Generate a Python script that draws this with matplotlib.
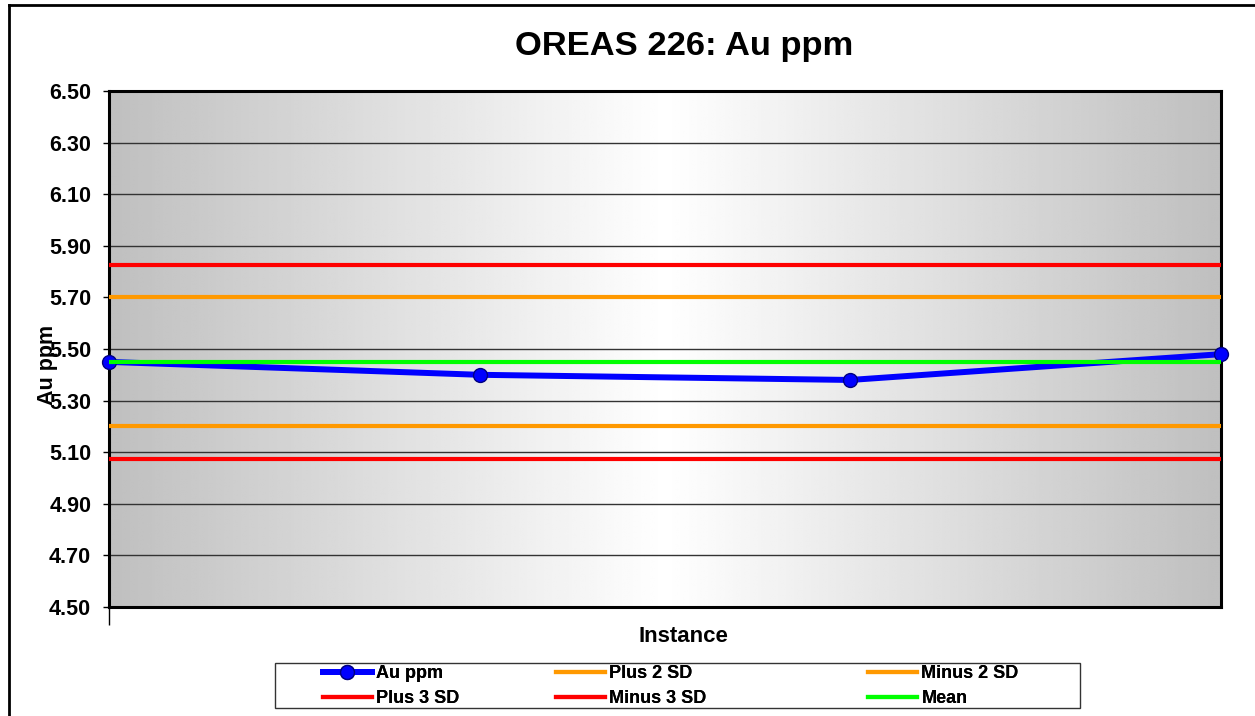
import numpy as np
import matplotlib
matplotlib.use("Agg")
import matplotlib.pyplot as plt
from matplotlib.lines import Line2D
from matplotlib.patches import Rectangle

# ---- data ----
instances = [1, 2, 3, 4]
au_ppm = [5.45, 5.40, 5.38, 5.48]
mean_val = 5.45
plus_2sd = 5.70
minus_2sd = 5.20
plus_3sd = 5.825
minus_3sd = 5.075
y_ticks = [4.50, 4.70, 4.90, 5.10, 5.30, 5.50, 5.70, 5.90, 6.10, 6.30, 6.50]

plt.rcParams['font.family'] = ['Liberation Sans', 'DejaVu Sans']
plt.rcParams['font.weight'] = 'bold'

W, H = 1255, 716
fig = plt.figure(figsize=(W / 100, H / 100), dpi=100)

def fx(px):
    return px / W

def fy(py):
    return 1 - py / H

left, right, top, bottom = 109, 1221, 91, 607
ax = fig.add_axes([fx(left), fy(bottom), fx(right - left), (bottom - top) / H])

# gradient background (gray edges, white center)
xs = np.linspace(0, 1, 400)
g = 1.0 - 0.25 * np.abs(xs - 0.5) / 0.5
grad = np.tile(g, (2, 1))
ax.imshow(grad, extent=[0, 1, 0, 1], transform=ax.transAxes, aspect='auto',
          cmap='gray', vmin=0, vmax=1, zorder=-1, interpolation='bilinear')

n = len(instances)
ax.plot(instances, au_ppm, color='#0000FF', lw=4.3, marker='o', markersize=10,
        markerfacecolor='#0000FF', markeredgecolor='#000080', markeredgewidth=1,
        clip_on=False, zorder=3, label='Au ppm')
ax.plot(instances, [plus_2sd] * n, color='#FF9900', lw=3, zorder=3, label='Plus 2 SD')
ax.plot(instances, [minus_2sd] * n, color='#FF9900', lw=3, zorder=3, label='Minus 2 SD')
ax.plot(instances, [plus_3sd] * n, color='#FF0000', lw=3, zorder=3, label='Plus 3 SD')
ax.plot(instances, [minus_3sd] * n, color='#FF0000', lw=3, zorder=3, label='Minus 3 SD')
ax.plot(instances, [mean_val] * n, color='#00FF00', lw=3, zorder=3, label='Mean')

ax.set_xlim(instances[0], instances[-1])
ax.set_ylim(y_ticks[0], y_ticks[-1])
ax.set_yticks(y_ticks)
ax.set_yticklabels([f"{v:.2f}" for v in y_ticks], fontsize=15.5, fontweight='bold')
ax.set_xticks([instances[0]])
ax.set_xticklabels([''])
ax.tick_params(axis='x', length=13, width=1, direction='out')
ax.tick_params(axis='y', length=4.3, width=1, direction='out', pad=8.5)
ax.grid(axis='y', color='#333333', lw=1)
ax.set_axisbelow(True)
for s in ax.spines.values():
    s.set_linewidth(2.2)
    s.set_color('black')

# titles / labels
fig.text(fx(684), fy(46), 'OREAS 226: Au ppm', ha='center', va='center',
         fontsize=24.8, fontweight='bold')
fig.text(fx(683), fy(636), 'Instance', ha='center', va='center',
         fontsize=16, fontweight='bold')
fig.text(fx(48), fy(365), 'Au ppm', ha='center', va='center', rotation=90,
         fontsize=15.5, fontweight='bold')

# outer chart border
fig.add_artist(Line2D([fx(9), fx(9)], [fy(5), 0], color='black', lw=2))
fig.add_artist(Line2D([fx(9), 1], [fy(5), fy(5)], color='black', lw=2))

# legend frame
fig.add_artist(Rectangle((fx(275), fy(708)), fx(1080 - 275), (708 - 663) / H,
                         fill=False, edgecolor='#333333', lw=1))

lines = ax.get_lines()
groups = [([lines[0], lines[3]], 323), ([lines[1], lines[4]], 556), ([lines[2], lines[5]], 868)]
for hs, xpx in groups:
    leg = fig.legend(handles=hs, labels=[h.get_label() for h in hs],
                     loc='center left', bbox_to_anchor=(fx(xpx), fy(686)),
                     frameon=False, borderpad=0, borderaxespad=0,
                     handlelength=2.7, handletextpad=0.25, labelspacing=0.45,
                     prop={'size': 13, 'weight': 'bold'})
    fig.add_artist(leg)

fig.savefig('out.png', dpi=100)
